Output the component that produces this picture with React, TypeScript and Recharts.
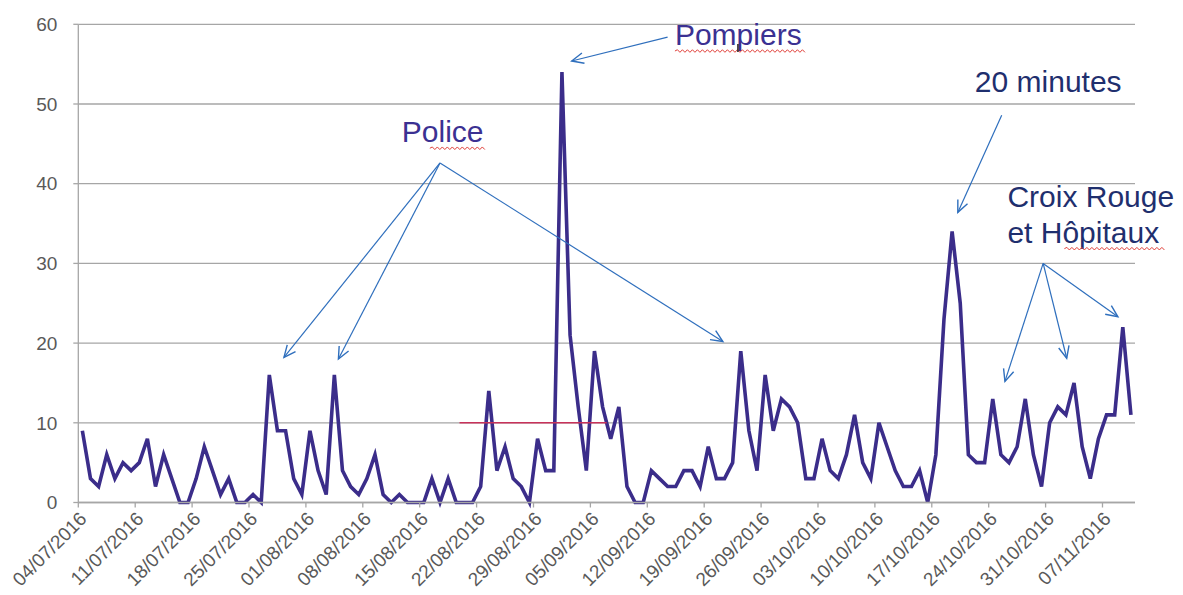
import React from "react";
import {
  LineChart,
  Line,
  XAxis,
  YAxis,
  CartesianGrid,
  ReferenceLine,
  ReferenceDot,
} from "recharts";

// Daily counts, 04/07/2016 .. 10/11/2016
const values: number[] = [
  9, 3, 2, 6, 3, 5, 4, 5, 8, 2, 6, 3, 0, 0, 3, 7, 4, 1, 3, 0, 0, 1, 0, 16, 9, 9, 3,
  1, 9, 4, 1, 16, 4, 2, 1, 3, 6, 1, 0, 1, 0, 0, 0, 3, 0, 3, 0, 0, 0, 2, 14, 4, 7,
  3, 2, 0, 8, 4, 4, 54, 21, 12, 4, 19, 12, 8, 12, 2, 0, 0, 4, 3, 2, 2, 4, 4, 2, 7, 3,
  3, 5, 19, 9, 4, 16, 9, 13, 12, 10, 3, 3, 8, 4, 3, 6, 11, 5, 3, 10, 7, 4, 2, 2, 4, 0,
  6, 23, 34, 25, 6, 5, 5, 13, 6, 5, 7, 13, 6, 2, 10, 12, 11, 15, 7, 3, 8, 11, 11, 22, 11,
];

const tickLabels: string[] = [
  "04/07/2016", "11/07/2016", "18/07/2016", "25/07/2016", "01/08/2016",
  "08/08/2016", "15/08/2016", "22/08/2016", "29/08/2016", "05/09/2016",
  "12/09/2016", "19/09/2016", "26/09/2016", "03/10/2016", "10/10/2016",
  "17/10/2016", "24/10/2016", "31/10/2016", "07/11/2016",
];

const yTicks: number[] = [0, 10, 20, 30, 40, 50, 60];

// Annotation arrows in data units (day, value): [fromDay, fromVal, toDay, toVal]
const arrows: number[][] = [
  [72.5, 58.4, 60.7, 55.4],
  [44.5, 42.6, 25.3, 18.2],
  [44.5, 42.6, 32.0, 18.0],
  [44.5, 42.6, 79.3, 20.2],
  [113.6, 48.6, 108.2, 36.4],
  [118.7, 30.0, 114.0, 15.2],
  [118.7, 30.0, 121.6, 18.1],
  [118.7, 30.0, 127.9, 23.3],
];

// Annotation texts: text, day, value (left baseline), colour, wavy underline [startOffset, endOffset] in px
const labelTexts: string[] = ["Pompiers", "Police", "20 minutes", "Croix Rouge", "et Hôpitaux"];
const labelDays: number[] = [73.4, 39.8, 110.3, 114.3, 114.3];
const labelVals: number[] = [57.4, 45.2, 51.5, 37.1, 32.6];
const labelColors: string[] = ["#3b3192", "#3b3192", "#1f2f6e", "#1f2f6e", "#1f2f6e"];
const labelWaves: (number[] | null)[] = [[0, 130], [28, 83], null, null, [57, 157]];

const redLine = { from: 46.9, to: 65.0, value: 10 };

const data = values.map((v, i) => ({ d: i + 0.5, v }));

const GRAY = "#a6a6a6";
const FONT = "'Liberation Sans', Arial, sans-serif";

const wavePath = (x0: number, x1: number, y: number) => {
  let p = `M${x0},${y}`;
  let up = true;
  for (let x = x0 + 2.5; x <= x1; x += 2.5) {
    p += ` L${x},${y + (up ? -1.3 : 1.3)}`;
    up = !up;
  }
  return p;
};

const ArrowShape = (p: any) => {
  const { x1, y1, x2, y2 } = p;
  const ang = Math.atan2(y2 - y1, x2 - x1);
  const L = 13;
  const a = 0.42;
  const ax = x2 - L * Math.cos(ang - a);
  const ay = y2 - L * Math.sin(ang - a);
  const bx = x2 - L * Math.cos(ang + a);
  const by = y2 - L * Math.sin(ang + a);
  return (
    <g>
      <line x1={x1} y1={y1} x2={x2} y2={y2} stroke="#2f6fbd" strokeWidth={1.2} />
      <polyline
        points={`${ax},${ay} ${x2},${y2} ${bx},${by}`}
        fill="none"
        stroke="#2f6fbd"
        strokeWidth={1.4}
      />
    </g>
  );
};

const makeLabel = (idx: number) => (p: any) => {
  const { cx, cy } = p;
  const wave = labelWaves[idx];
  return (
    <g>
      <text
        x={cx}
        y={cy}
        fill={labelColors[idx]}
        fontSize={30}
        fontFamily={FONT}
        textAnchor="start"
      >
        {labelTexts[idx]}
      </text>
      {wave && (
        <path
          d={wavePath(cx + wave[0], cx + wave[1], cy + 6)}
          stroke="#e0403a"
          strokeWidth={1}
          fill="none"
        />
      )}
      {idx === 0 && (
        <line x1={cx + 63} y1={cy - 1} x2={cx + 63} y2={cy + 7} stroke="#222" strokeWidth={1.5} />
      )}
    </g>
  );
};

export default function App() {
  return (
    <div style={{ position: "absolute", left: 0, top: 0, width: 1183, height: 595, background: "#fff" }}>
      <LineChart
        width={1183}
        height={595}
        data={data}
        margin={{ top: 24.3, right: 48, bottom: 0, left: 0 }}
      >
        <CartesianGrid vertical={false} stroke={GRAY} strokeWidth={1.3} />
        <XAxis
          type="number"
          dataKey="d"
          domain={[0, 130]}
          ticks={tickLabels.map((_, i) => i * 7)}
          tickFormatter={(v: number) => tickLabels[Math.round(v / 7)]}
          interval={0}
          angle={-45}
          textAnchor="end"
          height={92.5}
          tickSize={5}
          tickMargin={3}
          axisLine={{ stroke: GRAY, strokeWidth: 1.5 }}
          tickLine={{ stroke: GRAY, strokeWidth: 1.3 }}
          tick={{ fontSize: 19, fill: "#595959", fontFamily: FONT }}
        />
        <YAxis
          domain={[0, 60]}
          ticks={yTicks}
          interval={0}
          width={78.3}
          tickSize={5}
          tickMargin={16}
          axisLine={{ stroke: GRAY, strokeWidth: 1.3 }}
          tickLine={{ stroke: GRAY, strokeWidth: 1.3 }}
          tick={{ fontSize: 19, fill: "#595959", fontFamily: FONT }}
        />
        <Line
          type="linear"
          dataKey="v"
          stroke="#3b2d8a"
          strokeWidth={3.6}
          dot={false}
          activeDot={false}
          isAnimationActive={false}
        />
        <ReferenceLine
          segment={[
            { x: redLine.from, y: redLine.value },
            { x: redLine.to, y: redLine.value },
          ]}
          stroke="#c8325a"
          strokeWidth={1.6}
          ifOverflow="visible"
        />
        {arrows.map((a, i) => (
          <ReferenceLine
            key={`ar${i}`}
            segment={[
              { x: a[0], y: a[1] },
              { x: a[2], y: a[3] },
            ]}
            ifOverflow="visible"
            shape={ArrowShape}
          />
        ))}
        {labelTexts.map((_, i) => (
          <ReferenceDot
            key={`lb${i}`}
            x={labelDays[i]}
            y={labelVals[i]}
            r={0}
            ifOverflow="visible"
            shape={makeLabel(i)}
          />
        ))}
      </LineChart>
    </div>
  );
}
